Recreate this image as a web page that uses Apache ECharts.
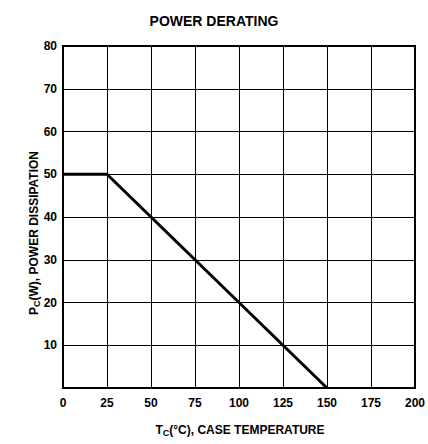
<!DOCTYPE html>
<html>
<head>
<meta charset="utf-8">
<script src="https://cdn.jsdelivr.net/npm/echarts@6/dist/echarts.min.js"></script>
<style>
  html, body { margin: 0; padding: 0; background: #fff; }
  #chart { width: 428px; height: 444px; }
</style>
</head>
<body>
<div id="chart"></div>
<script>
// derating curve
var caseTemp = [0, 25, 150];
var powerDiss = [50, 50, 0];

var chart = echarts.init(document.getElementById('chart'), null, { renderer: 'svg' });
var font = '"Liberation Sans", Arial, sans-serif';

var points = caseTemp.map(function (t, i) { return [t, powerDiss[i]]; });

var option = {
  animation: false,
  title: {
    text: 'POWER DERATING',
    left: 'center',
    top: 9,
    textStyle: { fontFamily: font, fontSize: 14, fontWeight: 'bold', color: '#000' }
  },
  grid: {
    left: 63, right: 12, top: 46, bottom: 56,
    show: true, borderColor: '#000', borderWidth: 2
  },
  graphic: [{
    type: 'text',
    x: 240, y: 430,
    style: {
      text: 'T{sub|C}(°C), CASE TEMPERATURE',
      align: 'center', verticalAlign: 'middle',
      font: 'bold 12px ' + font,
      fill: '#000',
      rich: { sub: { font: 'bold 9px ' + font, padding: [5, 0, 0, 0] } }
    }
  }, {
    type: 'text',
    x: 34, y: 233,
    rotation: Math.PI / 2,
    style: {
      text: 'P{sub|C}(W), POWER DISSIPATION',
      align: 'center', verticalAlign: 'middle',
      font: 'bold 12px ' + font,
      fill: '#000',
      rich: { sub: { font: 'bold 9px ' + font, padding: [5, 0, 0, 0] } }
    }
  }],
  xAxis: {
    type: 'value',
    min: 0, max: 200, interval: 25,
    axisLine: { show: false },
    axisTick: { show: false },
    axisLabel: { fontFamily: font, fontSize: 12, fontWeight: 'bold', color: '#000', margin: 9 },
    splitLine: { show: true, lineStyle: { color: '#000', width: 1 } }
  },
  yAxis: {
    type: 'value',
    min: 0, max: 80, interval: 10,
    axisLine: { show: false },
    axisTick: { show: false },
    axisLabel: {
      fontFamily: font, fontSize: 12, fontWeight: 'bold', color: '#000', margin: 6,
      formatter: function (v) { return v === 0 ? '' : v; }
    },
    splitLine: { show: true, lineStyle: { color: '#000', width: 1 } }
  },
  series: [{
    type: 'line',
    data: points,
    symbol: 'none',
    lineStyle: { color: '#000', width: 3 }
  }]
};
chart.setOption(option);
</script>
</body>
</html>
